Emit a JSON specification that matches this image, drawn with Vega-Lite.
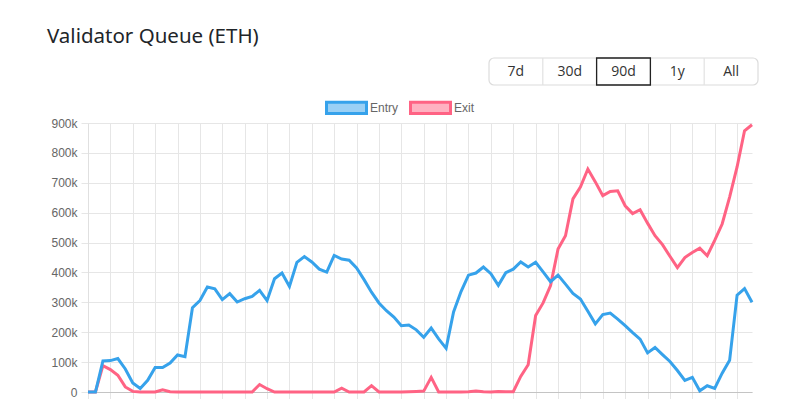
{
  "$schema": "https://vega.github.io/schema/vega-lite/v6.json",
  "background": "white",
  "padding": {"left": 46, "top": 26, "right": 20, "bottom": 10},
  "title": {"text": "Validator Queue (ETH)", "anchor": "start", "font": "Noto Sans", "fontSize": 20.5, "fontWeight": "normal", "color": "#212529", "offset": 10, "dx": -4},
  "spacing": 0,
  "resolve": {"scale": {"x": "independent", "y": "independent", "color": "independent"}, "legend": {"color": "independent"}},
  "vconcat": [
    {
      "width": 670,
      "height": 27,
      "data": {"values": [{"range": "7d"}, {"range": "30d"}, {"range": "90d", "active": true}, {"range": "1y"}, {"range": "All"}]},
      "encoding": {"x": {"field": "range", "type": "nominal", "scale": {"type": "band", "domain": ["7d", "30d", "90d", "1y", "All"], "paddingInner": 0, "paddingOuter": 0, "range": [401, 670]}, "axis": null}},
      "layer": [
        {"transform": [{"filter": "datum.range === '7d'"}], "mark": {"type": "rect", "fill": "white", "stroke": "#dcdcdc", "strokeWidth": 1.2, "cornerRadius": 5}, "encoding": {"x": {"field": "range", "type": "nominal", "bandPosition": 0}, "x2": {"datum": "All", "bandPosition": 1}}},
        {"transform": [{"filter": "datum.range !== '7d'"}], "mark": {"type": "rule", "color": "#e2e2e2", "strokeWidth": 1.2}, "encoding": {"x": {"field": "range", "type": "nominal", "bandPosition": 0}}},
        {"transform": [{"filter": "datum.active"}], "mark": {"type": "rect", "filled": false, "stroke": "#222222", "strokeWidth": 1.3}},
        {"mark": {"type": "text", "font": "Open Sans", "fontSize": 14, "color": "#333333"}, "encoding": {"text": {"field": "range"}}}
      ]
    },
    {
      "width": 664,
      "height": 269,
      "data": {"values": [
        {"date": "2025-06-15", "Entry": 0, "Exit": 0},
        {"date": "2025-06-16", "Entry": 0, "Exit": 0},
        {"date": "2025-06-17", "Entry": 104000, "Exit": 88000},
        {"date": "2025-06-18", "Entry": 105000, "Exit": 75000},
        {"date": "2025-06-19", "Entry": 112000, "Exit": 56000},
        {"date": "2025-06-20", "Entry": 77000, "Exit": 17000},
        {"date": "2025-06-21", "Entry": 30000, "Exit": 2000},
        {"date": "2025-06-22", "Entry": 12000, "Exit": 0},
        {"date": "2025-06-23", "Entry": 39000, "Exit": 0},
        {"date": "2025-06-24", "Entry": 82000, "Exit": 0},
        {"date": "2025-06-25", "Entry": 82000, "Exit": 7000},
        {"date": "2025-06-26", "Entry": 97000, "Exit": 1000},
        {"date": "2025-06-27", "Entry": 124000, "Exit": 0},
        {"date": "2025-06-28", "Entry": 118000, "Exit": 0},
        {"date": "2025-06-29", "Entry": 282000, "Exit": 0},
        {"date": "2025-06-30", "Entry": 306000, "Exit": 0},
        {"date": "2025-07-01", "Entry": 351000, "Exit": 0},
        {"date": "2025-07-02", "Entry": 345000, "Exit": 0},
        {"date": "2025-07-03", "Entry": 309000, "Exit": 0},
        {"date": "2025-07-04", "Entry": 329000, "Exit": 0},
        {"date": "2025-07-05", "Entry": 301000, "Exit": 0},
        {"date": "2025-07-06", "Entry": 312000, "Exit": 0},
        {"date": "2025-07-07", "Entry": 320000, "Exit": 0},
        {"date": "2025-07-08", "Entry": 340000, "Exit": 25000},
        {"date": "2025-07-09", "Entry": 306000, "Exit": 11000},
        {"date": "2025-07-10", "Entry": 379000, "Exit": 0},
        {"date": "2025-07-11", "Entry": 398000, "Exit": 0},
        {"date": "2025-07-12", "Entry": 353000, "Exit": 0},
        {"date": "2025-07-13", "Entry": 434000, "Exit": 0},
        {"date": "2025-07-14", "Entry": 453000, "Exit": 0},
        {"date": "2025-07-15", "Entry": 435000, "Exit": 0},
        {"date": "2025-07-16", "Entry": 411000, "Exit": 0},
        {"date": "2025-07-17", "Entry": 401000, "Exit": 0},
        {"date": "2025-07-18", "Entry": 457000, "Exit": 0},
        {"date": "2025-07-19", "Entry": 445000, "Exit": 13000},
        {"date": "2025-07-20", "Entry": 441000, "Exit": 0},
        {"date": "2025-07-21", "Entry": 415000, "Exit": 0},
        {"date": "2025-07-22", "Entry": 376000, "Exit": 0},
        {"date": "2025-07-23", "Entry": 334000, "Exit": 21000},
        {"date": "2025-07-24", "Entry": 298000, "Exit": 0},
        {"date": "2025-07-25", "Entry": 272000, "Exit": 0},
        {"date": "2025-07-26", "Entry": 251000, "Exit": 0},
        {"date": "2025-07-27", "Entry": 222000, "Exit": 0},
        {"date": "2025-07-28", "Entry": 224000, "Exit": 1000},
        {"date": "2025-07-29", "Entry": 208000, "Exit": 2000},
        {"date": "2025-07-30", "Entry": 183000, "Exit": 3000},
        {"date": "2025-07-31", "Entry": 214000, "Exit": 49000},
        {"date": "2025-08-01", "Entry": 178000, "Exit": 0},
        {"date": "2025-08-02", "Entry": 146000, "Exit": 0},
        {"date": "2025-08-03", "Entry": 268000, "Exit": 0},
        {"date": "2025-08-04", "Entry": 336000, "Exit": 0},
        {"date": "2025-08-05", "Entry": 391000, "Exit": 1000},
        {"date": "2025-08-06", "Entry": 398000, "Exit": 3000},
        {"date": "2025-08-07", "Entry": 418000, "Exit": 1000},
        {"date": "2025-08-08", "Entry": 396000, "Exit": 0},
        {"date": "2025-08-09", "Entry": 357000, "Exit": 2000},
        {"date": "2025-08-10", "Entry": 399000, "Exit": 1000},
        {"date": "2025-08-11", "Entry": 411000, "Exit": 1000},
        {"date": "2025-08-12", "Entry": 435000, "Exit": 52000},
        {"date": "2025-08-13", "Entry": 418000, "Exit": 91000},
        {"date": "2025-08-14", "Entry": 434000, "Exit": 256000},
        {"date": "2025-08-15", "Entry": 402000, "Exit": 298000},
        {"date": "2025-08-16", "Entry": 369000, "Exit": 356000},
        {"date": "2025-08-17", "Entry": 391000, "Exit": 478000},
        {"date": "2025-08-18", "Entry": 361000, "Exit": 523000},
        {"date": "2025-08-19", "Entry": 330000, "Exit": 646000},
        {"date": "2025-08-20", "Entry": 311000, "Exit": 686000},
        {"date": "2025-08-21", "Entry": 270000, "Exit": 746000},
        {"date": "2025-08-22", "Entry": 228000, "Exit": 703000},
        {"date": "2025-08-23", "Entry": 259000, "Exit": 657000},
        {"date": "2025-08-24", "Entry": 264000, "Exit": 671000},
        {"date": "2025-08-25", "Entry": 244000, "Exit": 673000},
        {"date": "2025-08-26", "Entry": 222000, "Exit": 623000},
        {"date": "2025-08-27", "Entry": 199000, "Exit": 597000},
        {"date": "2025-08-28", "Entry": 177000, "Exit": 610000},
        {"date": "2025-08-29", "Entry": 131000, "Exit": 565000},
        {"date": "2025-08-30", "Entry": 149000, "Exit": 523000},
        {"date": "2025-08-31", "Entry": 125000, "Exit": 493000},
        {"date": "2025-09-01", "Entry": 102000, "Exit": 454000},
        {"date": "2025-09-02", "Entry": 72000, "Exit": 416000},
        {"date": "2025-09-03", "Entry": 39000, "Exit": 450000},
        {"date": "2025-09-04", "Entry": 49000, "Exit": 467000},
        {"date": "2025-09-05", "Entry": 4000, "Exit": 481000},
        {"date": "2025-09-06", "Entry": 21000, "Exit": 456000},
        {"date": "2025-09-07", "Entry": 12000, "Exit": 507000},
        {"date": "2025-09-08", "Entry": 63000, "Exit": 562000},
        {"date": "2025-09-09", "Entry": 106000, "Exit": 652000},
        {"date": "2025-09-10", "Entry": 324000, "Exit": 753000},
        {"date": "2025-09-11", "Entry": 346000, "Exit": 874000},
        {"date": "2025-09-12", "Entry": 300000, "Exit": 894000}
      ]},
      "transform": [{"fold": ["Exit", "Entry"], "as": ["series", "value"]}],
      "mark": {"type": "line", "strokeWidth": 3, "interpolate": "linear"},
      "encoding": {
        "x": {
          "field": "date", "type": "temporal", "title": null,
          "scale": {"nice": false},
          "axis": {
            "values": [1749945600000, 1750204800000, 1750464000000, 1750723200000, 1750982400000, 1751241600000, 1751500800000, 1751760000000, 1752019200000, 1752278400000, 1752537600000, 1752796800000, 1753056000000, 1753315200000, 1753574400000, 1753833600000, 1754092800000, 1754352000000, 1754611200000, 1754870400000, 1755129600000, 1755388800000, 1755648000000, 1755907200000, 1756166400000, 1756425600000, 1756684800000, 1756944000000, 1757203200000, 1757462400000],
            "grid": true, "gridColor": "#e6e6e6", "gridWidth": 1,
            "tickColor": "#e6e6e6", "tickSize": 8,
            "domainColor": "#c4c4c4", "domainWidth": 1,
            "labelFont": "Liberation Sans", "labelFontSize": 12, "labelColor": "#666666", "labelPadding": 4
          }
        },
        "y": {
          "field": "value", "type": "quantitative", "title": null,
          "scale": {"domain": [0, 900000], "nice": false},
          "axis": {
            "values": [0, 100000, 200000, 300000, 400000, 500000, 600000, 700000, 800000, 900000],
            "labelExpr": "datum.value === 0 ? '0' : (datum.value / 1000) + 'k'",
            "grid": true, "gridColor": "#e6e6e6", "gridWidth": 1,
            "tickColor": "#e6e6e6", "tickSize": 7,
            "domainColor": "#e0e0e0", "domainWidth": 1,
            "labelFont": "Liberation Sans", "labelFontSize": 12, "labelColor": "#666666", "labelPadding": 4
          }
        },
        "color": {
          "field": "series", "type": "nominal",
          "scale": {"domain": ["Entry", "Exit"], "range": ["#36A2EB", "#FF6384"]},
          "legend": {
            "orient": "none", "legendX": 237, "legendY": -37, "direction": "horizontal", "title": null,
            "symbolType": "M-1,-0.28L1,-0.28L1,0.28L-1,0.28Z", "symbolSize": 1600, "symbolStrokeWidth": 3,
            "labelFont": "Liberation Sans", "labelFontSize": 12, "labelColor": "#666666", "labelOffset": 2, "columnPadding": 5,
            "encode": {"symbols": {"update": {
              "fill": {"signal": "datum.value === 'Entry' ? 'rgba(54,162,235,0.5)' : 'rgba(255,99,132,0.5)'"}
            }}}
          }
        }
      }
    }
  ],
  "config": {"view": {"stroke": null}}
}
